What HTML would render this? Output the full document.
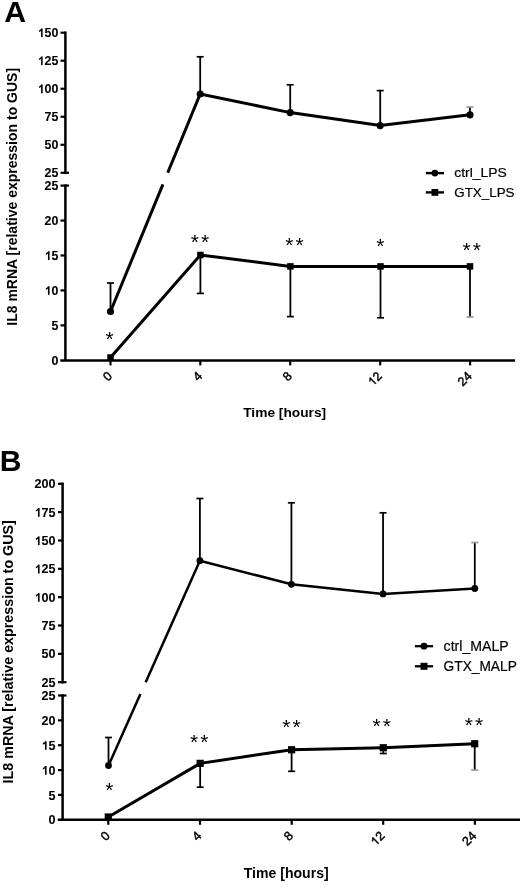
<!DOCTYPE html>
<html><head><meta charset="utf-8"><title>IL8 mRNA</title>
<style>
html,body{margin:0;padding:0;background:#fff;}
body{width:520px;height:887px;overflow:hidden;}
svg{display:block;will-change:transform;}
svg text{font-family:"Liberation Sans", sans-serif;fill:#000;stroke:none;}
svg text.sk{stroke:#000;stroke-width:0.1px;}
svg text.sx{stroke:#000;stroke-width:0.45px;}
svg text.sl{stroke:#000;stroke-width:0.2px;}
path.skp{stroke:#000;stroke-width:0.1px;}
path.sxp{stroke:#000;stroke-width:0.45px;}
</style></head><body>
<svg width="520" height="887" viewBox="0 0 520 887" stroke="#000" fill="#000">
<g stroke="none" fill="#000">
</g>
<g>
<line x1="65.4" y1="31.45" x2="65.4" y2="174.05" stroke-width="2.5" stroke-linecap="butt"/>
<line x1="65.4" y1="184.35" x2="65.4" y2="360.3" stroke-width="2.5" stroke-linecap="butt"/>
<line x1="60.5" y1="32.7" x2="65.4" y2="32.7" stroke-width="2.2" stroke-linecap="butt"/>
<g><path class="skp" d="M42.62 37.1L41.1 37.1L41.1 30.8Q40.19 31.62 39.01 31.98L39.01 30.5Q39.65 30.26 40.31 29.71Q40.98 29.17 41.28 28.57L42.62 28.57Z"/><text x="44.61" y="37.1" font-size="12.4" font-weight="bold" class="sk">5</text><text x="51.5" y="37.1" font-size="12.4" font-weight="bold" class="sk">0</text></g>
<line x1="60.5" y1="60.72" x2="65.4" y2="60.72" stroke-width="2.2" stroke-linecap="butt"/>
<g><path class="skp" d="M42.62 65.12L41.1 65.12L41.1 58.82Q40.19 59.64 39.01 60L39.01 58.52Q39.65 58.28 40.31 57.73Q40.98 57.19 41.28 56.59L42.62 56.59Z"/><text x="44.61" y="65.12" font-size="12.4" font-weight="bold" class="sk">2</text><text x="51.5" y="65.12" font-size="12.4" font-weight="bold" class="sk">5</text></g>
<line x1="60.5" y1="88.74" x2="65.4" y2="88.74" stroke-width="2.2" stroke-linecap="butt"/>
<g><path class="skp" d="M42.62 93.14L41.1 93.14L41.1 86.84Q40.19 87.66 39.01 88.02L39.01 86.54Q39.65 86.3 40.31 85.75Q40.98 85.21 41.28 84.61L42.62 84.61Z"/><text x="44.61" y="93.14" font-size="12.4" font-weight="bold" class="sk">0</text><text x="51.5" y="93.14" font-size="12.4" font-weight="bold" class="sk">0</text></g>
<line x1="60.5" y1="116.76" x2="65.4" y2="116.76" stroke-width="2.2" stroke-linecap="butt"/>
<g><text x="44.61" y="121.16" font-size="12.4" font-weight="bold" class="sk">7</text><text x="51.5" y="121.16" font-size="12.4" font-weight="bold" class="sk">5</text></g>
<line x1="60.5" y1="144.78" x2="65.4" y2="144.78" stroke-width="2.2" stroke-linecap="butt"/>
<g><text x="44.61" y="149.18" font-size="12.4" font-weight="bold" class="sk">5</text><text x="51.5" y="149.18" font-size="12.4" font-weight="bold" class="sk">0</text></g>
<line x1="60.5" y1="172.8" x2="69" y2="172.8" stroke-width="2.2" stroke-linecap="butt"/>
<g><text x="44.61" y="177.2" font-size="12.4" font-weight="bold" class="sk">2</text><text x="51.5" y="177.2" font-size="12.4" font-weight="bold" class="sk">5</text></g>
<line x1="60.5" y1="185.6" x2="69" y2="185.6" stroke-width="2.2" stroke-linecap="butt"/>
<g><text x="44.61" y="190" font-size="12.4" font-weight="bold" class="sk">2</text><text x="51.5" y="190" font-size="12.4" font-weight="bold" class="sk">5</text></g>
<line x1="60.5" y1="220.54" x2="65.4" y2="220.54" stroke-width="2.2" stroke-linecap="butt"/>
<g><text x="44.61" y="224.94" font-size="12.4" font-weight="bold" class="sk">2</text><text x="51.5" y="224.94" font-size="12.4" font-weight="bold" class="sk">0</text></g>
<line x1="60.5" y1="255.48" x2="65.4" y2="255.48" stroke-width="2.2" stroke-linecap="butt"/>
<g><path class="skp" d="M49.51 259.88L48 259.88L48 253.58Q47.09 254.4 45.91 254.76L45.91 253.28Q46.54 253.04 47.21 252.49Q47.88 251.95 48.18 251.35L49.51 251.35Z"/><text x="51.5" y="259.88" font-size="12.4" font-weight="bold" class="sk">5</text></g>
<line x1="60.5" y1="290.42" x2="65.4" y2="290.42" stroke-width="2.2" stroke-linecap="butt"/>
<g><path class="skp" d="M49.51 294.82L48 294.82L48 288.52Q47.09 289.34 45.91 289.7L45.91 288.22Q46.54 287.98 47.21 287.43Q47.88 286.89 48.18 286.29L49.51 286.29Z"/><text x="51.5" y="294.82" font-size="12.4" font-weight="bold" class="sk">0</text></g>
<line x1="60.5" y1="325.36" x2="65.4" y2="325.36" stroke-width="2.2" stroke-linecap="butt"/>
<g><text x="51.5" y="329.76" font-size="12.4" font-weight="bold" class="sk">5</text></g>
<g><text x="51.5" y="364.7" font-size="12.4" font-weight="bold" class="sk">0</text></g>
<line x1="60.3" y1="360.4" x2="515" y2="360.4" stroke-width="2.5" stroke-linecap="butt"/>
<line x1="110.5" y1="360.4" x2="110.5" y2="365.4" stroke-width="2.2" stroke-linecap="butt"/>
<g transform="rotate(-45 113 376.8)"><text x="106.05" y="376.8" font-size="12.5" font-weight="normal" class="sx">0</text></g>
<line x1="200.3" y1="360.4" x2="200.3" y2="365.4" stroke-width="2.2" stroke-linecap="butt"/>
<g transform="rotate(-45 202.8 376.8)"><text x="195.85" y="376.8" font-size="12.5" font-weight="normal" class="sx">4</text></g>
<line x1="290.2" y1="360.4" x2="290.2" y2="365.4" stroke-width="2.2" stroke-linecap="butt"/>
<g transform="rotate(-45 292.7 376.8)"><text x="285.75" y="376.8" font-size="12.5" font-weight="normal" class="sx">8</text></g>
<line x1="380.2" y1="360.4" x2="380.2" y2="365.4" stroke-width="2.2" stroke-linecap="butt"/>
<g transform="rotate(-45 382.7 376.8)"><path class="sxp" d="M373.45 376.8L372.35 376.8L372.35 370.09Q371.96 370.45 371.37 370.8Q370.77 371.15 370.24 371.35L370.24 370.33Q371.16 369.9 371.85 369.27Q372.55 368.65 372.74 368.2L373.45 368.2Z"/><text x="375.75" y="376.8" font-size="12.5" font-weight="normal" class="sx">2</text></g>
<line x1="470.1" y1="360.4" x2="470.1" y2="365.4" stroke-width="2.2" stroke-linecap="butt"/>
<g transform="rotate(-45 472.6 376.8)"><text x="458.7" y="376.8" font-size="12.5" font-weight="normal" class="sx">2</text><text x="465.65" y="376.8" font-size="12.5" font-weight="normal" class="sx">4</text></g>
<text x="284.7" y="417.1" font-size="13.5" font-weight="bold" text-anchor="middle" textLength="83" lengthAdjust="spacingAndGlyphs">Time [hours]</text>
<text x="17" y="196.8" font-size="14" font-weight="bold" text-anchor="middle" transform="rotate(-90 17 196.8)">IL8 mRNA [relative expression to GUS]</text>
<text x="4.2" y="21.6" font-size="30.3" font-weight="bold" text-anchor="start">A</text>
<line x1="110.5" y1="311.5" x2="110.5" y2="283" stroke-width="1.8" stroke-linecap="butt"/>
<line x1="107" y1="283" x2="114" y2="283" stroke-width="1.7" stroke-linecap="butt"/>
<line x1="200.2" y1="94" x2="200.2" y2="56.8" stroke-width="1.8" stroke-linecap="butt"/>
<line x1="196.7" y1="56.8" x2="203.7" y2="56.8" stroke-width="1.7" stroke-linecap="butt"/>
<line x1="290.2" y1="112.6" x2="290.2" y2="84.8" stroke-width="1.8" stroke-linecap="butt"/>
<line x1="286.7" y1="84.8" x2="293.7" y2="84.8" stroke-width="1.7" stroke-linecap="butt"/>
<line x1="380.2" y1="125.6" x2="380.2" y2="90.6" stroke-width="1.8" stroke-linecap="butt"/>
<line x1="376.7" y1="90.6" x2="383.7" y2="90.6" stroke-width="1.7" stroke-linecap="butt"/>
<line x1="470" y1="114.8" x2="470" y2="107" stroke-width="1.8" stroke-linecap="butt"/>
<g stroke="#999">
<line x1="466.5" y1="107" x2="473.5" y2="107" stroke-width="1.7" stroke-linecap="butt"/>
</g>
<line x1="200.4" y1="255" x2="200.4" y2="293.4" stroke-width="1.8" stroke-linecap="butt"/>
<line x1="196.9" y1="293.4" x2="203.9" y2="293.4" stroke-width="1.7" stroke-linecap="butt"/>
<line x1="290.4" y1="266.4" x2="290.4" y2="316.6" stroke-width="1.8" stroke-linecap="butt"/>
<line x1="286.9" y1="316.6" x2="293.9" y2="316.6" stroke-width="1.7" stroke-linecap="butt"/>
<line x1="380.5" y1="266.4" x2="380.5" y2="317.8" stroke-width="1.8" stroke-linecap="butt"/>
<line x1="377" y1="317.8" x2="384" y2="317.8" stroke-width="1.7" stroke-linecap="butt"/>
<line x1="470" y1="266.4" x2="470" y2="317" stroke-width="1.8" stroke-linecap="butt"/>
<g stroke="#999">
<line x1="466.5" y1="317" x2="473.5" y2="317" stroke-width="1.7" stroke-linecap="butt"/>
</g>
<polyline fill="none" stroke-width="3" stroke-linejoin="miter" points="110.5 311.5 162.92 184.4"/>
<polyline fill="none" stroke-width="3" stroke-linejoin="miter" points="167.7,172.8 200.2,94 290.2,112.6 380.2,125.6 470,114.8"/>
<polyline fill="none" stroke-width="3" stroke-linejoin="miter" points="110.5,357.5 200.4,255 290.4,266.4 380.5,266.4 470,266.4"/>
<circle cx="110.5" cy="311.5" r="3.6" stroke="none"/>
<circle cx="200.2" cy="94" r="3.6" stroke="none"/>
<circle cx="290.2" cy="112.6" r="3.6" stroke="none"/>
<circle cx="380.2" cy="125.6" r="3.6" stroke="none"/>
<circle cx="470" cy="114.8" r="3.6" stroke="none"/>
<rect x="107.25" y="354.25" width="6.5" height="6.5" stroke="none"/>
<rect x="197.15" y="251.75" width="6.5" height="6.5" stroke="none"/>
<rect x="287.15" y="263.15" width="6.5" height="6.5" stroke="none"/>
<rect x="377.25" y="263.15" width="6.5" height="6.5" stroke="none"/>
<rect x="466.75" y="263.15" width="6.5" height="6.5" stroke="none"/>
<text x="109.5" y="345.7" font-size="21" font-weight="normal" text-anchor="middle" letter-spacing="0">*</text>
<text x="200.9" y="249.1" font-size="21" font-weight="normal" text-anchor="middle" letter-spacing="2.1">**</text>
<text x="295.45" y="252.3" font-size="21" font-weight="normal" text-anchor="middle" letter-spacing="2.1">**</text>
<text x="380.4" y="253.1" font-size="21" font-weight="normal" text-anchor="middle" letter-spacing="0">*</text>
<text x="472.65" y="256.6" font-size="21" font-weight="normal" text-anchor="middle" letter-spacing="2.1">**</text>
<line x1="425.8" y1="173.1" x2="444" y2="173.1" stroke-width="2.4" stroke-linecap="butt"/>
<circle cx="434.9" cy="173.1" r="3.4" stroke="none"/>
<text x="454.3" y="177.3" font-size="13" font-weight="normal" text-anchor="start" textLength="52.6" lengthAdjust="spacingAndGlyphs" class="sl">ctrl_LPS</text>
<line x1="425.8" y1="192.4" x2="444" y2="192.4" stroke-width="2.4" stroke-linecap="butt"/>
<rect x="431.5" y="189" width="6.8" height="6.8" stroke="none"/>
<text x="454.3" y="196.6" font-size="13" font-weight="normal" text-anchor="start" textLength="60.2" lengthAdjust="spacingAndGlyphs" class="sl">GTX_LPS</text>
<line x1="62.6" y1="482.55" x2="62.6" y2="683.45" stroke-width="2.5" stroke-linecap="butt"/>
<line x1="62.6" y1="694.25" x2="62.6" y2="819.8" stroke-width="2.5" stroke-linecap="butt"/>
<line x1="58" y1="483.8" x2="62.6" y2="483.8" stroke-width="2.2" stroke-linecap="butt"/>
<g><text x="34.58" y="488.4" font-size="12.6" font-weight="bold" class="sk">2</text><text x="41.58" y="488.4" font-size="12.6" font-weight="bold" class="sk">0</text><text x="48.59" y="488.4" font-size="12.6" font-weight="bold" class="sk">0</text></g>
<line x1="58" y1="512.14" x2="62.6" y2="512.14" stroke-width="2.2" stroke-linecap="butt"/>
<g><path class="skp" d="M39.56 516.74L38.02 516.74L38.02 510.34Q37.1 511.17 35.9 511.54L35.9 510.04Q36.55 509.79 37.22 509.24Q37.9 508.68 38.21 508.07L39.56 508.07Z"/><text x="41.58" y="516.74" font-size="12.6" font-weight="bold" class="sk">7</text><text x="48.59" y="516.74" font-size="12.6" font-weight="bold" class="sk">5</text></g>
<line x1="58" y1="540.49" x2="62.6" y2="540.49" stroke-width="2.2" stroke-linecap="butt"/>
<g><path class="skp" d="M39.56 545.09L38.02 545.09L38.02 538.69Q37.1 539.52 35.9 539.88L35.9 538.38Q36.55 538.13 37.22 537.58Q37.9 537.03 38.21 536.42L39.56 536.42Z"/><text x="41.58" y="545.09" font-size="12.6" font-weight="bold" class="sk">5</text><text x="48.59" y="545.09" font-size="12.6" font-weight="bold" class="sk">0</text></g>
<line x1="58" y1="568.83" x2="62.6" y2="568.83" stroke-width="2.2" stroke-linecap="butt"/>
<g><path class="skp" d="M39.56 573.43L38.02 573.43L38.02 567.03Q37.1 567.86 35.9 568.22L35.9 566.72Q36.55 566.48 37.22 565.92Q37.9 565.37 38.21 564.76L39.56 564.76Z"/><text x="41.58" y="573.43" font-size="12.6" font-weight="bold" class="sk">2</text><text x="48.59" y="573.43" font-size="12.6" font-weight="bold" class="sk">5</text></g>
<line x1="58" y1="597.17" x2="62.6" y2="597.17" stroke-width="2.2" stroke-linecap="butt"/>
<g><path class="skp" d="M39.56 601.77L38.02 601.77L38.02 595.37Q37.1 596.2 35.9 596.57L35.9 595.07Q36.55 594.82 37.22 594.27Q37.9 593.71 38.21 593.1L39.56 593.1Z"/><text x="41.58" y="601.77" font-size="12.6" font-weight="bold" class="sk">0</text><text x="48.59" y="601.77" font-size="12.6" font-weight="bold" class="sk">0</text></g>
<line x1="58" y1="625.51" x2="62.6" y2="625.51" stroke-width="2.2" stroke-linecap="butt"/>
<g><text x="41.58" y="630.11" font-size="12.6" font-weight="bold" class="sk">7</text><text x="48.59" y="630.11" font-size="12.6" font-weight="bold" class="sk">5</text></g>
<line x1="58" y1="653.86" x2="62.6" y2="653.86" stroke-width="2.2" stroke-linecap="butt"/>
<g><text x="41.58" y="658.46" font-size="12.6" font-weight="bold" class="sk">5</text><text x="48.59" y="658.46" font-size="12.6" font-weight="bold" class="sk">0</text></g>
<line x1="58" y1="682.2" x2="66.5" y2="682.2" stroke-width="2.2" stroke-linecap="butt"/>
<g><text x="41.58" y="686.8" font-size="12.6" font-weight="bold" class="sk">2</text><text x="48.59" y="686.8" font-size="12.6" font-weight="bold" class="sk">5</text></g>
<line x1="58" y1="695.5" x2="66.5" y2="695.5" stroke-width="2.2" stroke-linecap="butt"/>
<g><text x="41.58" y="700.1" font-size="12.6" font-weight="bold" class="sk">2</text><text x="48.59" y="700.1" font-size="12.6" font-weight="bold" class="sk">5</text></g>
<line x1="58" y1="720.36" x2="62.6" y2="720.36" stroke-width="2.2" stroke-linecap="butt"/>
<g><text x="41.58" y="724.96" font-size="12.6" font-weight="bold" class="sk">2</text><text x="48.59" y="724.96" font-size="12.6" font-weight="bold" class="sk">0</text></g>
<line x1="58" y1="745.22" x2="62.6" y2="745.22" stroke-width="2.2" stroke-linecap="butt"/>
<g><path class="skp" d="M46.57 749.82L45.03 749.82L45.03 743.42Q44.11 744.25 42.91 744.62L42.91 743.11Q43.55 742.87 44.23 742.31Q44.91 741.76 45.21 741.15L46.57 741.15Z"/><text x="48.59" y="749.82" font-size="12.6" font-weight="bold" class="sk">5</text></g>
<line x1="58" y1="770.08" x2="62.6" y2="770.08" stroke-width="2.2" stroke-linecap="butt"/>
<g><path class="skp" d="M46.57 774.68L45.03 774.68L45.03 768.28Q44.11 769.11 42.91 769.48L42.91 767.97Q43.55 767.73 44.23 767.17Q44.91 766.62 45.21 766.01L46.57 766.01Z"/><text x="48.59" y="774.68" font-size="12.6" font-weight="bold" class="sk">0</text></g>
<line x1="58" y1="794.94" x2="62.6" y2="794.94" stroke-width="2.2" stroke-linecap="butt"/>
<g><text x="48.59" y="799.54" font-size="12.6" font-weight="bold" class="sk">5</text></g>
<g><text x="48.59" y="824.4" font-size="12.6" font-weight="bold" class="sk">0</text></g>
<line x1="57.8" y1="819.8" x2="520" y2="819.8" stroke-width="2.5" stroke-linecap="butt"/>
<line x1="108.3" y1="819.8" x2="108.3" y2="824.8" stroke-width="2.2" stroke-linecap="butt"/>
<g transform="rotate(-45 110.6 836.6)"><text x="103.59" y="836.6" font-size="12.6" font-weight="normal" class="sx">0</text></g>
<line x1="200" y1="819.8" x2="200" y2="824.8" stroke-width="2.2" stroke-linecap="butt"/>
<g transform="rotate(-45 202.3 836.6)"><text x="195.29" y="836.6" font-size="12.6" font-weight="normal" class="sx">4</text></g>
<line x1="291.7" y1="819.8" x2="291.7" y2="824.8" stroke-width="2.2" stroke-linecap="butt"/>
<g transform="rotate(-45 294 836.6)"><text x="286.99" y="836.6" font-size="12.6" font-weight="normal" class="sx">8</text></g>
<line x1="383.2" y1="819.8" x2="383.2" y2="824.8" stroke-width="2.2" stroke-linecap="butt"/>
<g transform="rotate(-45 385.5 836.6)"><path class="sxp" d="M376.18 836.6L375.07 836.6L375.07 829.83Q374.67 830.2 374.08 830.55Q373.48 830.9 372.94 831.11L372.94 830.08Q373.87 829.64 374.57 829.01Q375.27 828.39 375.46 827.93L376.18 827.93Z"/><text x="378.49" y="836.6" font-size="12.6" font-weight="normal" class="sx">2</text></g>
<line x1="474.9" y1="819.8" x2="474.9" y2="824.8" stroke-width="2.2" stroke-linecap="butt"/>
<g transform="rotate(-45 477.2 836.6)"><text x="463.18" y="836.6" font-size="12.6" font-weight="normal" class="sx">2</text><text x="470.19" y="836.6" font-size="12.6" font-weight="normal" class="sx">4</text></g>
<text x="286.2" y="878.2" font-size="13.8" font-weight="bold" text-anchor="middle" textLength="85" lengthAdjust="spacingAndGlyphs">Time [hours]</text>
<text x="12.8" y="651.8" font-size="14.3" font-weight="bold" text-anchor="middle" transform="rotate(-90 12.8 651.8)">IL8 mRNA [relative expression to GUS]</text>
<text x="-0.3" y="470.8" font-size="30" font-weight="bold" text-anchor="start">B</text>
<line x1="108.5" y1="765.5" x2="108.5" y2="737.5" stroke-width="1.8" stroke-linecap="butt"/>
<line x1="105" y1="737.5" x2="112" y2="737.5" stroke-width="1.7" stroke-linecap="butt"/>
<line x1="199.9" y1="560.7" x2="199.9" y2="498.5" stroke-width="1.8" stroke-linecap="butt"/>
<line x1="196.4" y1="498.5" x2="203.4" y2="498.5" stroke-width="1.7" stroke-linecap="butt"/>
<line x1="291.4" y1="584.3" x2="291.4" y2="502.8" stroke-width="1.8" stroke-linecap="butt"/>
<line x1="287.9" y1="502.8" x2="294.9" y2="502.8" stroke-width="1.7" stroke-linecap="butt"/>
<line x1="383.05" y1="593.9" x2="383.05" y2="512.8" stroke-width="1.8" stroke-linecap="butt"/>
<line x1="379.55" y1="512.8" x2="386.55" y2="512.8" stroke-width="1.7" stroke-linecap="butt"/>
<line x1="474.8" y1="588.5" x2="474.8" y2="542.5" stroke-width="1.8" stroke-linecap="butt"/>
<g stroke="#999">
<line x1="471.3" y1="542.5" x2="478.3" y2="542.5" stroke-width="1.7" stroke-linecap="butt"/>
</g>
<line x1="200.15" y1="763.35" x2="200.15" y2="787.2" stroke-width="1.8" stroke-linecap="butt"/>
<line x1="196.65" y1="787.2" x2="203.65" y2="787.2" stroke-width="1.7" stroke-linecap="butt"/>
<line x1="291.6" y1="749.75" x2="291.6" y2="771.3" stroke-width="1.8" stroke-linecap="butt"/>
<line x1="288.1" y1="771.3" x2="295.1" y2="771.3" stroke-width="1.7" stroke-linecap="butt"/>
<line x1="383.3" y1="747.75" x2="383.3" y2="753.5" stroke-width="1.8" stroke-linecap="butt"/>
<line x1="379.8" y1="753.5" x2="386.8" y2="753.5" stroke-width="1.7" stroke-linecap="butt"/>
<line x1="474.7" y1="743.75" x2="474.7" y2="770" stroke-width="1.8" stroke-linecap="butt"/>
<g stroke="#999">
<line x1="471.2" y1="770" x2="478.2" y2="770" stroke-width="1.7" stroke-linecap="butt"/>
</g>
<polyline fill="none" stroke-width="2.5" stroke-linejoin="miter" points="108.5 765.5 140.41 694"/>
<polyline fill="none" stroke-width="2.5" stroke-linejoin="miter" points="145.68,682.2 199.9,560.7 291.4,584.3 383.05,593.9 474.8,588.5"/>
<polyline fill="none" stroke-width="3" stroke-linejoin="miter" points="108.3,817 200.15,763.35 291.6,749.75 383.3,747.75 474.7,743.75"/>
<circle cx="108.5" cy="765.5" r="3.4" stroke="none"/>
<circle cx="199.9" cy="560.7" r="3.4" stroke="none"/>
<circle cx="291.4" cy="584.3" r="3.4" stroke="none"/>
<circle cx="383.05" cy="593.9" r="3.4" stroke="none"/>
<circle cx="474.8" cy="588.5" r="3.4" stroke="none"/>
<rect x="104.7" y="813.4" width="7.2" height="7.2" stroke="none"/>
<rect x="196.55" y="759.75" width="7.2" height="7.2" stroke="none"/>
<rect x="288" y="746.15" width="7.2" height="7.2" stroke="none"/>
<rect x="379.7" y="744.15" width="7.2" height="7.2" stroke="none"/>
<rect x="471.1" y="740.15" width="7.2" height="7.2" stroke="none"/>
<text x="109.3" y="797.3" font-size="21" font-weight="normal" text-anchor="middle" letter-spacing="0">*</text>
<text x="200.2" y="748.7" font-size="21" font-weight="normal" text-anchor="middle" letter-spacing="2.1">**</text>
<text x="292.4" y="734.2" font-size="21" font-weight="normal" text-anchor="middle" letter-spacing="2.1">**</text>
<text x="382.85" y="733" font-size="21" font-weight="normal" text-anchor="middle" letter-spacing="2.1">**</text>
<text x="475.05" y="732.2" font-size="21" font-weight="normal" text-anchor="middle" letter-spacing="2.1">**</text>
<line x1="414.9" y1="646.2" x2="433.1" y2="646.2" stroke-width="2.3" stroke-linecap="butt"/>
<circle cx="424" cy="646.2" r="3.4" stroke="none"/>
<text x="443.6" y="651.1" font-size="13.8" font-weight="normal" text-anchor="start" textLength="65.2" lengthAdjust="spacingAndGlyphs" class="sl">ctrl_MALP</text>
<line x1="414.9" y1="666.3" x2="433.1" y2="666.3" stroke-width="2.3" stroke-linecap="butt"/>
<rect x="420.5" y="662.8" width="7" height="7" stroke="none"/>
<text x="443.6" y="670.8" font-size="13.8" font-weight="normal" text-anchor="start" textLength="73.2" lengthAdjust="spacingAndGlyphs" class="sl">GTX_MALP</text>
</g>
</svg>
</body></html>
